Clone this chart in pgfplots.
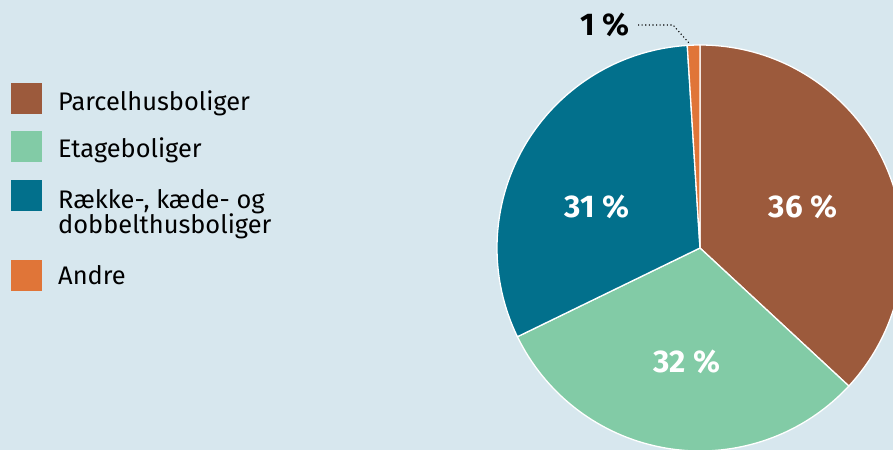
\documentclass[border=0pt]{standalone}
\usepackage{pgfplots}
\pgfplotsset{compat=1.18}
\usepackage{pgfplotstable}
\usepackage{fontspec}
\setmainfont{Fira Sans}
\definecolor{bg}{HTML}{D7E7EE}
\definecolor{cbrown}{HTML}{9C5A3C}
\definecolor{cgreen}{HTML}{82CBA6}
\definecolor{cteal}{HTML}{02708C}
\definecolor{corange}{HTML}{E07538}

% shares as drawn (labels are rounded values)
\pgfplotstableread{
name   share label
Parcel 36.9  36
Etage  30.9  32
Raekke 31.2  31
Andre  1.0   1
}\piedata

\pgfplotstablegetelem{0}{share}\of\piedata \let\sA\pgfplotsretval
\pgfplotstablegetelem{1}{share}\of\piedata \let\sB\pgfplotsretval
\pgfplotstablegetelem{2}{share}\of\piedata \let\sC\pgfplotsretval
\pgfplotstablegetelem{3}{share}\of\piedata \let\sD\pgfplotsretval
\pgfmathsetmacro\aA{90-3.6*\sA}
\pgfmathsetmacro\aB{\aA-3.6*\sB}
\pgfmathsetmacro\aC{\aB-3.6*\sC}
\pgfmathsetmacro\aD{\aC-3.6*\sD}

\newcommand\legfont{\fontsize{25.5}{26}\selectfont}
\newcommand\pctfont{\fontsize{31.5}{32}\selectfont\bfseries}

\begin{document}
\begin{tikzpicture}
\fill[bg] (0,0) rectangle (893bp,450bp);
\clip (0,0) rectangle (893bp,450bp);
\begin{axis}[at={(0,0)}, anchor=south west, x=1bp, y=1bp,
  xmin=0, xmax=893, ymin=0, ymax=450, hide axis, clip=true]
% pie slices
\fill[cbrown, draw=white, line width=1.3bp] (axis cs:700,202) -- ++(90:203bp) arc[start angle=90, end angle=\aA, radius=203bp] -- cycle;
\fill[cgreen, draw=white, line width=1.3bp] (axis cs:700,202) -- ++(\aA:203bp) arc[start angle=\aA, end angle=\aB, radius=203bp] -- cycle;
\fill[cteal, draw=white, line width=1.3bp] (axis cs:700,202) -- ++(\aB:203bp) arc[start angle=\aB, end angle=\aC, radius=203bp] -- cycle;
\fill[corange, draw=white, line width=1.3bp] (axis cs:700,202) -- ++(\aC:203bp) arc[start angle=\aC, end angle=\aD, radius=203bp] -- cycle;
% percentage labels
\node[white, font=\pctfont] at (axis cs:803,243) {36 \%};
\node[white, font=\pctfont] at (axis cs:687,88) {32 \%};
\node[white, font=\pctfont] at (axis cs:597,243) {31 \%};
\node[black, font=\pctfont] at (axis cs:605,425.5) {1 \%};
\draw[black, line width=1.1bp, dash pattern=on 1.1bp off 2.5bp] (axis cs:638,425) -- (axis cs:673,425) -- (axis cs:689,407);
% legend
\fill[cbrown]  (axis cs:11,336) rectangle (axis cs:42,367);
\fill[cgreen]  (axis cs:11,288) rectangle (axis cs:42,319);
\fill[cteal]   (axis cs:11,239) rectangle (axis cs:42,270);
\fill[corange] (axis cs:11,159) rectangle (axis cs:42,190);
\node[anchor=base west, inner sep=0pt, font=\legfont] at (axis cs:58,340) {Parcelhusboliger};
\node[anchor=base west, inner sep=0pt, font=\legfont] at (axis cs:58,293) {Etageboliger};
\node[anchor=base west, inner sep=0pt, font=\legfont] at (axis cs:58,242) {Række-, kæde- og};
\node[anchor=base west, inner sep=0pt, font=\legfont] at (axis cs:58,217) {dobbelthusboliger};
\node[anchor=base west, inner sep=0pt, font=\legfont] at (axis cs:58,166) {Andre};
\end{axis}
\end{tikzpicture}
\end{document}
